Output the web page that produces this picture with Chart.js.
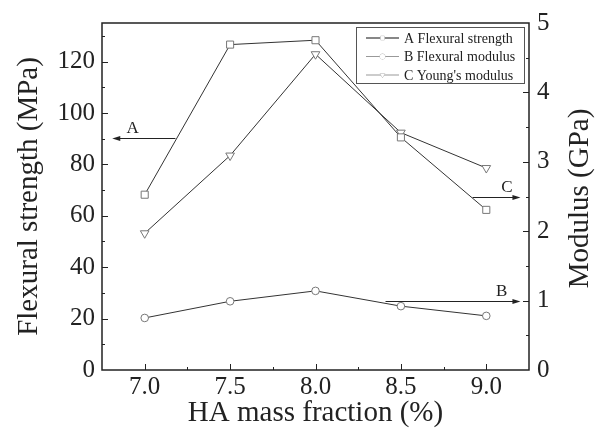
<!DOCTYPE html>
<html>
<head>
<meta charset="utf-8">
<script src="https://cdn.jsdelivr.net/npm/chart.js@4.4.1/dist/chart.umd.min.js"></script>
<style>
    body { margin: 0; background: #fff; }
    #chart { display: block; }
</style>
</head>
<body>
<canvas id="chart" width="596" height="429"></canvas>
<script>
const massFraction = [7.0, 7.5, 8.0, 8.5, 9.0];
const flexuralStrength = [68.2, 126.6, 128.3, 90.5, 62.3];   // MPa, left axis
const flexuralModulus = [0.75, 0.99, 1.14, 0.92, 0.78];     // GPa, right axis
const youngsModulus = [1.97, 3.09, 4.55, 3.42, 2.91];       // GPa, right axis

const xTicks = [7.0, 7.5, 8.0, 8.5, 9.0];
const strengthTicks = [0, 20, 40, 60, 80, 100, 120];
const modulusTicks = [0, 1, 2, 3, 4, 5];

// arrows pointing each curve to its axis (data coordinates)
const arrows = [
    { label: "A", axis: "y", y: 90.4, from: 7.18, to: 6.81, textX: 6.93 },
    { label: "B", axis: "y1", y: 1.0, from: 8.41, to: 9.2, textX: 9.09 },
    { label: "C", axis: "y1", y: 2.5, from: 8.92, to: 9.2, textX: 9.12 },
];

const serif = "'Liberation Serif', 'DejaVu Serif', serif";
const ink = "#222";

const frameAndTicks = {
    id: "frameAndTicks",
    afterDraw(chart) {
        const { ctx, chartArea: a, scales } = chart;
        ctx.save();
        ctx.strokeStyle = ink;
        ctx.lineWidth = 1;
        ctx.beginPath();
        // x ticks, major every 0.5, minor every 0.25
        for (let v = 7.0; v <= 9.0001; v += 0.25) {
            const px = Math.round(scales.x.getPixelForValue(v)) + 0.5;
            const len = Math.abs(v * 2 - Math.round(v * 2)) < 0.01 ? 6 : 3;
            ctx.moveTo(px, a.bottom);
            ctx.lineTo(px, a.bottom - len);
        }
        // left axis, major 20, minor 10
        for (let v = 10; v <= 130; v += 10) {
            const py = Math.round(scales.y.getPixelForValue(v)) + 0.5;
            const len = v % 20 === 0 ? 6 : 3;
            ctx.moveTo(a.left, py);
            ctx.lineTo(a.left + len, py);
        }
        // right axis, major 1, minor 0.5
        for (let v = 0.5; v < 5; v += 0.5) {
            const py = Math.round(scales.y1.getPixelForValue(v)) + 0.5;
            const len = v % 1 === 0 ? 6 : 3;
            ctx.moveTo(a.right, py);
            ctx.lineTo(a.right - len, py);
        }
        ctx.stroke();

        ctx.lineWidth = 1.5;
        ctx.strokeRect(a.left, a.top, a.right - a.left, a.bottom - a.top);

        // right axis title reads bottom-to-top like the left one
        ctx.save();
        ctx.translate(580, (a.top + a.bottom) / 2 + 2);
        ctx.rotate(-Math.PI / 2);
        ctx.fillStyle = ink;
        ctx.font = "29px " + serif;
        ctx.textAlign = "center";
        ctx.textBaseline = "middle";
        ctx.fillText("Modulus (GPa)", 0, 0);
        ctx.restore();

        // annotation arrows
        ctx.lineWidth = 1.2;
        ctx.fillStyle = ink;
        ctx.font = "17px " + serif;
        ctx.textAlign = "center";
        ctx.textBaseline = "bottom";
        arrows.forEach((ar) => {
            const y = Math.round(scales[ar.axis].getPixelForValue(ar.y)) + 0.5;
            const x1 = scales.x.getPixelForValue(ar.from);
            const x2 = scales.x.getPixelForValue(ar.to);
            const dir = x2 > x1 ? 1 : -1;
            ctx.beginPath();
            ctx.moveTo(x1, y);
            ctx.lineTo(x2 - dir * 6, y);
            ctx.stroke();
            ctx.beginPath();
            ctx.moveTo(x2, y);
            ctx.lineTo(x2 - dir * 8, y - 2.5);
            ctx.lineTo(x2 - dir * 8, y + 2.5);
            ctx.closePath();
            ctx.fill();
            ctx.fillText(ar.label, scales.x.getPixelForValue(ar.textX), y - 1);
        });

        // legend box
        const lx = 356, ly = 27, lw = 168, lh = 56;
        ctx.lineWidth = 1;
        ctx.strokeStyle = "#555";
        ctx.strokeRect(lx + 0.5, ly + 0.5, lw, lh);
        ctx.font = "14px " + serif;
        ctx.textAlign = "left";
        ctx.textBaseline = "middle";
        chart.data.datasets.forEach((ds, i) => {
            const ry = ly + 11 + i * 18.5;
            ctx.strokeStyle = i === 0 ? "#111" : "#999";
            ctx.lineWidth = 1.2;
            ctx.beginPath();
            ctx.moveTo(lx + 10, ry);
            ctx.lineTo(lx + 43, ry);
            ctx.stroke();
            ctx.fillStyle = "#fff";
            ctx.strokeStyle = "#aaa";
            ctx.lineWidth = 0.8;
            Chart.helpers.drawPoint(ctx, {
                pointStyle: ds.pointStyle,
                rotation: ds.pointRotation || 0,
                radius: 2.6,
                borderWidth: 0.8,
            }, lx + 26.5, ry);
            ctx.fill();
            ctx.fillStyle = ink;
            ctx.fillText(ds.label, lx + 48, ry + 1);
        });
        ctx.restore();
    },
};

const seriesStyle = {
    borderColor: "#333",
    borderWidth: 1,
    pointBackgroundColor: "#fff",
    pointBorderColor: "#777",
    pointBorderWidth: 1,
    tension: 0,
};

new Chart(document.getElementById("chart"), {
    type: "line",
    data: {
        datasets: [
            {
                label: "A Flexural strength",
                data: massFraction.map((x, i) => ({ x: x, y: flexuralStrength[i] })),
                yAxisID: "y",
                pointStyle: "rect",
                pointRadius: 5,
                ...seriesStyle,
            },
            {
                label: "B Flexural modulus",
                data: massFraction.map((x, i) => ({ x: x, y: flexuralModulus[i] })),
                yAxisID: "y1",
                pointStyle: "circle",
                pointRadius: 3.8,
                ...seriesStyle,
            },
            {
                label: "C Young's modulus",
                data: massFraction.map((x, i) => ({ x: x, y: youngsModulus[i] })),
                yAxisID: "y1",
                pointStyle: "triangle",
                pointRotation: 180,
                pointRadius: 5,
                ...seriesStyle,
            },
        ],
    },
    options: {
        responsive: false,
        animation: false,
        layout: { padding: { top: 23, left: 0, right: 0, bottom: 0 } },
        plugins: {
            legend: { display: false },
            tooltip: { enabled: false },
        },
        scales: {
            x: {
                type: "linear",
                min: 6.75,
                max: 9.25,
                afterBuildTicks: (scale) => {
                    scale.ticks = xTicks.map((v) => ({ value: v }));
                },
                afterFit: (scale) => {
                    scale.height = 59;
                },
                grid: { display: false, drawTicks: false },
                border: { display: false },
                ticks: {
                    color: ink,
                    padding: 2,
                    font: { family: serif, size: 25 },
                    callback: (v) => Number(v).toFixed(1),
                },
                title: {
                    display: true,
                    text: "HA mass fraction (%)",
                    color: ink,
                    font: { family: serif, size: 29, lineHeight: 1.1 },
                    padding: { top: 0, bottom: 0 },
                },
            },
            y: {
                position: "left",
                min: 0,
                max: 135,
                afterBuildTicks: (scale) => {
                    scale.ticks = strengthTicks.map((v) => ({ value: v }));
                },
                afterFit: (scale) => {
                    scale.width = 102;
                },
                grid: { display: false, drawTicks: false },
                border: { display: false },
                ticks: {
                    color: ink,
                    padding: 7,
                    font: { family: serif, size: 25 },
                },
                title: {
                    display: true,
                    text: "Flexural strength (MPa)",
                    color: ink,
                    font: { family: serif, size: 29 },
                    padding: { top: 12, bottom: 0 },
                },
            },
            y1: {
                position: "right",
                min: 0,
                max: 5,
                afterBuildTicks: (scale) => {
                    scale.ticks = modulusTicks.map((v) => ({ value: v }));
                },
                afterFit: (scale) => {
                    scale.width = 67;
                },
                grid: { display: false, drawTicks: false },
                border: { display: false },
                ticks: {
                    color: ink,
                    padding: 8,
                    font: { family: serif, size: 25 },
                },
            },
        },
    },
    plugins: [frameAndTicks],
});
</script>
</body>
</html>
